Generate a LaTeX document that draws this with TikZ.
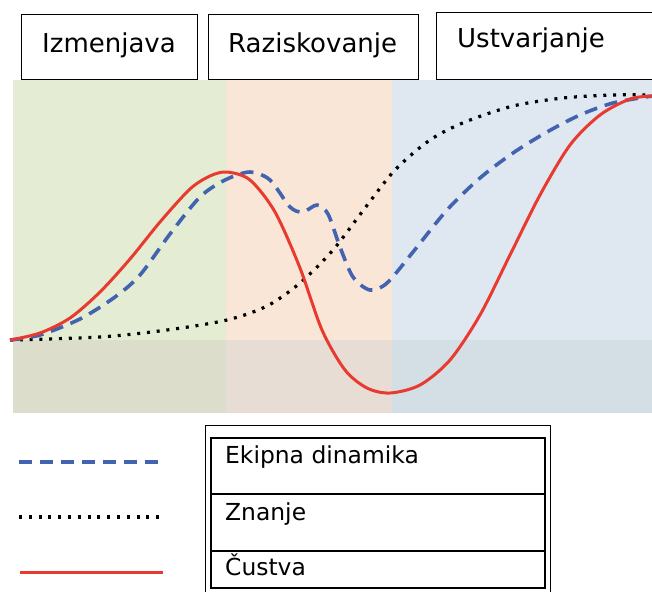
\documentclass[tikz,border=0pt]{standalone}
\usepackage{fontspec}
\setmainfont{DejaVu Sans}
\definecolor{bgA}{HTML}{E4EDD4}
\definecolor{bgB}{HTML}{F9E6D7}
\definecolor{bgC}{HTML}{DFE7F1}
\definecolor{lowA}{HTML}{DCDECB}
\definecolor{lowB}{HTML}{E8DDD5}
\definecolor{lowC}{HTML}{D3DEE5}
\definecolor{emoRed}{HTML}{E83A2E}
\definecolor{teamBlue}{HTML}{4263B0}
\begin{document}
\begin{tikzpicture}[x=1pt,y=-1pt,
  hdrbox/.style={draw=black,line width=1.2pt,minimum height=65pt,anchor=north west,inner sep=0pt},
  hdrtext/.style={anchor=base west,inner sep=0pt,font=\fontsize{26}{30}\selectfont},
  cell/.style={draw=black,line width=2.2pt,minimum width=334pt,anchor=north west,inner sep=0pt},
  celltext/.style={anchor=base west,inner sep=0pt,font=\fontsize{23.4}{28}\selectfont},
  teamline/.style={teamBlue,line width=3.6pt,dash pattern=on 13pt off 8pt},
  knowline/.style={black,line width=3.2pt,dash pattern=on 3pt off 6.8pt},
  emoline/.style={emoRed,line width=3pt,line join=round}]
\useasboundingbox (0,0) rectangle (652,591);

% phase backgrounds
\fill[bgA] (13,80) rectangle (226,413);
\fill[bgB] (226,80) rectangle (392,413);
\fill[bgC] (392,80) rectangle (652,413);
\fill[lowA] (13,340) rectangle (226,413);
\fill[lowB] (226,340) rectangle (392,413);
\fill[lowC] (392,340) rectangle (652,413);

% phase headers
\node[hdrbox,minimum width=176pt] (h1) at (21,14) {};
\node[hdrbox,minimum width=210pt] (h2) at (208,14) {};
\node[hdrbox,minimum width=230pt,minimum height=67pt] (h3) at (436,12) {};
\node[hdrtext] (t1) at (42,53) {Izmenjava};
\node[hdrtext] (t2) at (228,53) {Raziskovanje};
\node[hdrtext] (t3) at (457,48) {Ustvarjanje};

% knowledge
\draw[knowline] plot[smooth] coordinates {(10,340) (100,337) (167,330) (227,320) (267,306) (300,283) (333,250) (365,208) (395,170) (430,140) (465,122) (513,106) (563,98) (613,95) (652,95)};
% team dynamics
\draw[teamline] plot[smooth] coordinates {(10,340) (40,335) (80,319) (115,297) (140,275) (170,234) (200,197) (225,180) (250,172) (270,180) (290,207) (303,212) (317,205) (328,214) (340,247) (353,277) (370,290) (387,283) (413,252) (447,210) (480,178) (513,153) (547,132) (580,115) (613,103) (652,96)};
% emotions
\draw[emoline] plot[smooth] coordinates {(10,340) (40,333) (70,318) (100,292) (130,259) (160,222) (190,189) (210,176) (227,172) (250,180) (275,212) (300,268) (322,330) (345,370) (367,388) (390,393) (420,385) (450,360) (480,315) (510,255) (540,195) (570,145) (600,115) (630,99) (652,96)};

% legend
\draw[line width=1pt] (205,600) -- (205,425) -- (550,425) -- (550,600);
\node[cell,minimum height=56pt] (c1) at (210,437) {};
\node[cell,minimum height=57pt] (c2) at (210,493) {};
\node[cell,minimum height=37pt] (c3) at (210,550) {};
\node[celltext] (l1) at (225,463) {Ekipna dinamika};
\node[celltext] (l2) at (225,520) {Znanje};
\node[celltext] (l3) at (225,575) {Čustva};

\coordinate (s1a) at (19,462); \coordinate (s1b) at (165,462);
\coordinate (s2a) at (19,517); \coordinate (s2b) at (165,517);
\coordinate (s3a) at (20,572); \coordinate (s3b) at (163,572);
\draw[teamline] (s1a) -- (s1b);
\draw[knowline] (s2a) -- (s2b);
\draw[emoline] (s3a) -- (s3b);
\end{tikzpicture}
\end{document}
